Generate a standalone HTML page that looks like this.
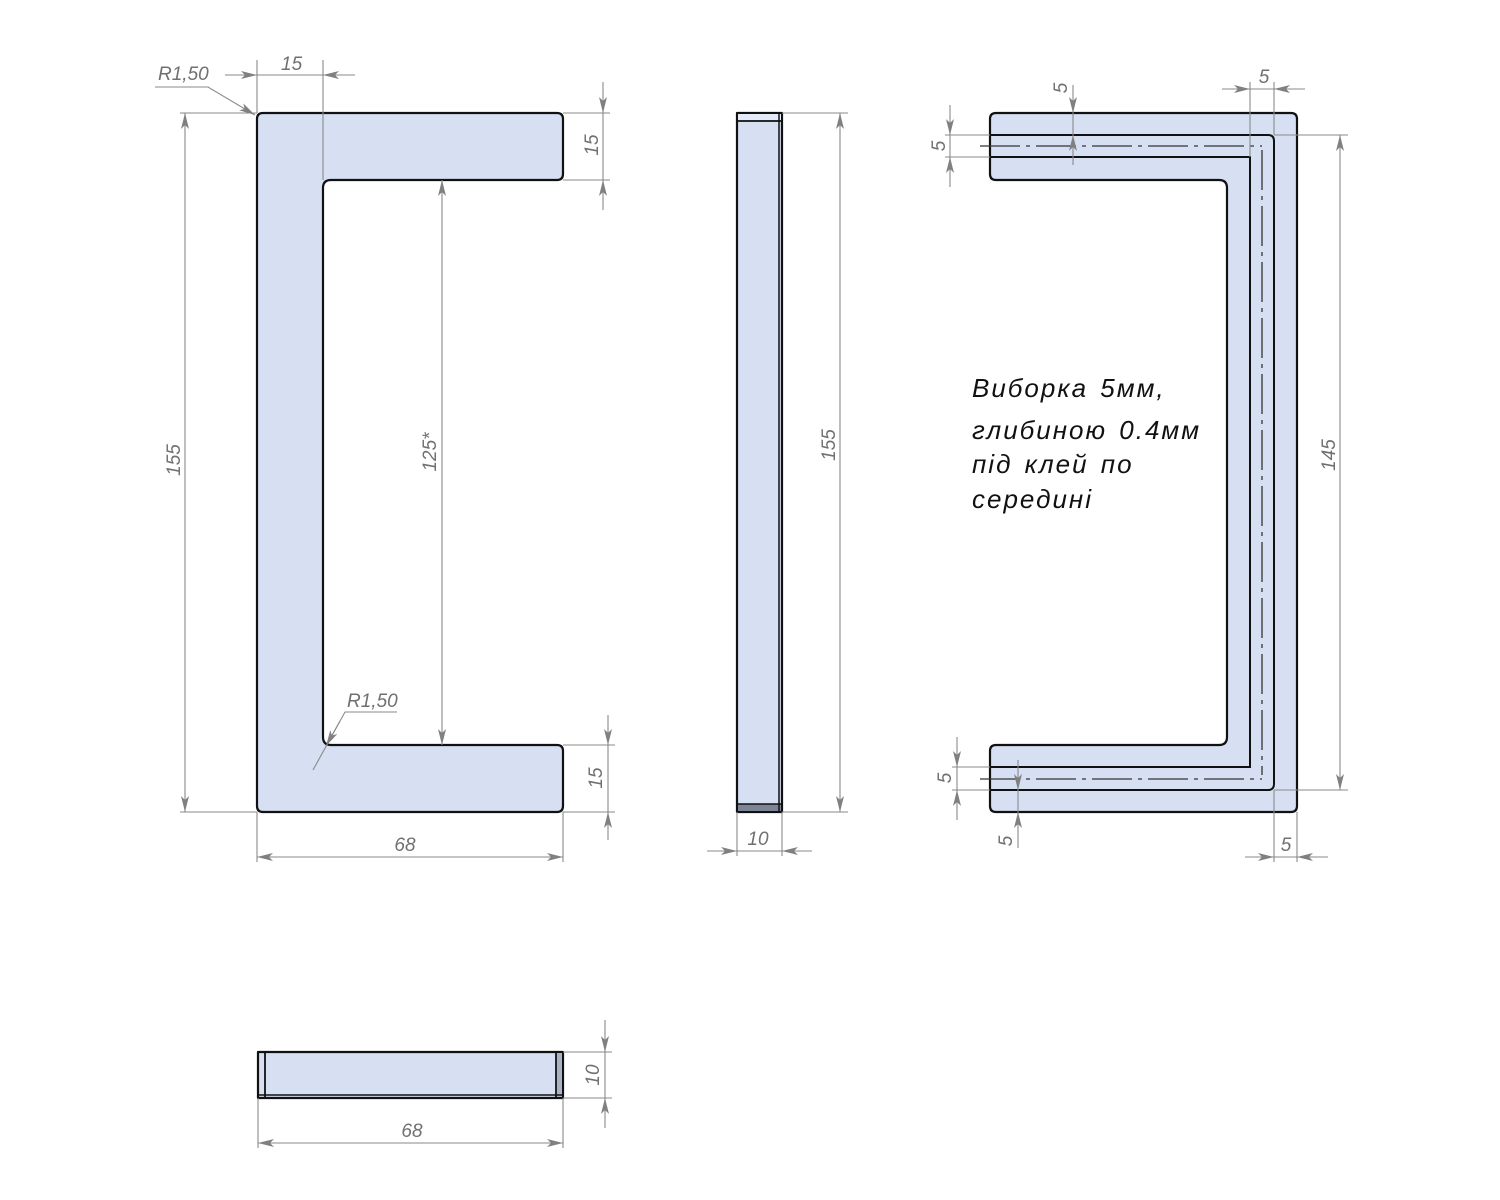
<!DOCTYPE html>
<html><head><meta charset="utf-8"><style>
html,body{margin:0;padding:0;background:#fff;}
svg{display:block;}
text{font-family:"Liberation Sans","DejaVu Sans",sans-serif;font-style:italic;fill:#707070;font-size:19px;font-weight:300;}
.note{fill:#111;font-size:26px;letter-spacing:2px;word-spacing:3px;}
</style></head><body>
<svg width="1500" height="1200" viewBox="0 0 1500 1200" xmlns="http://www.w3.org/2000/svg">
<defs>
<marker id="a" viewBox="0 0 16 8" refX="16" refY="4" markerWidth="16" markerHeight="8" markerUnits="userSpaceOnUse" orient="auto-start-reverse">
<path d="M0,0 L16,4 L0,8 L4,4 Z" fill="#808080"/></marker>
</defs>
<g fill="#d6e0f2" stroke="#111" stroke-width="2.2" stroke-linejoin="round">
<path d="M263,113 H557 Q563,113 563,119 V174 Q563,180 557,180 H331 Q323,180 323,188 V737 Q323,745 331,745 H557 Q563,745 563,751 V806 Q563,812 557,812 H263 Q257,812 257,806 V119 Q257,113 263,113 Z"/>
<rect x="737" y="113" width="45" height="699"/>
<path d="M996,113 H1291 Q1297,113 1297,119 V806 Q1297,812 1291,812 H996 Q990,812 990,806 V751 Q990,745 996,745 H1219 Q1227,745 1227,737 V188 Q1227,180 1219,180 H996 Q990,180 990,174 V119 Q990,113 996,113 Z"/>
<rect x="258" y="1052" width="305" height="46"/>
</g>
<rect x="738" y="114" width="43" height="6" fill="#e4ebf8"/>
<line x1="737" y1="121" x2="782" y2="121" stroke="#111" stroke-width="1.8"/>
<rect x="738" y="804" width="43" height="7" fill="#7c8496"/>
<line x1="737" y1="804" x2="782" y2="804" stroke="#111" stroke-width="1.5"/>
<line x1="779" y1="113" x2="779" y2="812" stroke="#111" stroke-width="1.5"/>
<line x1="265" y1="1052" x2="265" y2="1098" stroke="#111" stroke-width="1.8"/>
<line x1="556" y1="1052" x2="556" y2="1098" stroke="#111" stroke-width="1.8"/>
<rect x="557" y="1053" width="5" height="44" fill="#aab3c6"/>
<line x1="258" y1="1095" x2="563" y2="1095" stroke="#111" stroke-width="1.5"/>
<g fill="none" stroke="#111" stroke-width="2">
<path d="M990,135 H1268 Q1274,135 1274,141 V784 Q1274,790 1268,790 H990"/>
<path d="M990,157 H1250 V767 H990"/>
</g>
<g fill="none" stroke="#333" stroke-width="1.3" stroke-dasharray="40,6,4,6">
<path d="M980,146 H1262"/><path d="M1262,150 V775"/><path d="M980,779 H1262"/>
</g>
<g stroke="#8a8a8a" stroke-width="1.1" fill="none">
<line x1="180" y1="113" x2="257" y2="113"/><line x1="180" y1="812" x2="257" y2="812"/>
<line x1="185" y1="113" x2="185" y2="812" marker-start="url(#a)" marker-end="url(#a)"/>
<line x1="442" y1="180" x2="442" y2="745" marker-start="url(#a)" marker-end="url(#a)"/>
<line x1="257" y1="60" x2="257" y2="113"/><line x1="323" y1="60" x2="323" y2="180"/>
<line x1="225" y1="75" x2="257" y2="75" marker-end="url(#a)"/><line x1="355" y1="75" x2="323" y2="75" marker-end="url(#a)"/>
<line x1="257" y1="75" x2="323" y2="75"/>
<polyline points="155,87 208,87 255,115" marker-end="url(#a)"/>
<line x1="563" y1="113" x2="610" y2="113"/><line x1="563" y1="180" x2="610" y2="180"/>
<line x1="603" y1="82" x2="603" y2="113" marker-end="url(#a)"/><line x1="603" y1="210" x2="603" y2="180" marker-end="url(#a)"/>
<line x1="603" y1="113" x2="603" y2="180"/>
<line x1="563" y1="745" x2="615" y2="745"/><line x1="563" y1="812" x2="615" y2="812"/>
<line x1="608" y1="715" x2="608" y2="745" marker-end="url(#a)"/><line x1="608" y1="840" x2="608" y2="812" marker-end="url(#a)"/>
<line x1="608" y1="745" x2="608" y2="812"/>
<line x1="257" y1="812" x2="257" y2="862"/><line x1="563" y1="812" x2="563" y2="862"/>
<line x1="257" y1="857" x2="563" y2="857" marker-start="url(#a)" marker-end="url(#a)"/>
<polyline points="397,712 345,712 313,770"/>
<line x1="340" y1="721" x2="326" y2="746" marker-end="url(#a)"/>
<line x1="782" y1="113" x2="848" y2="113"/><line x1="782" y1="812" x2="848" y2="812"/>
<line x1="840" y1="113" x2="840" y2="812" marker-start="url(#a)" marker-end="url(#a)"/>
<line x1="737" y1="812" x2="737" y2="856"/><line x1="782" y1="812" x2="782" y2="856"/>
<line x1="707" y1="851" x2="737" y2="851" marker-end="url(#a)"/><line x1="812" y1="851" x2="782" y2="851" marker-end="url(#a)"/>
<line x1="737" y1="851" x2="782" y2="851"/>
<line x1="563" y1="1052" x2="612" y2="1052"/><line x1="563" y1="1098" x2="612" y2="1098"/>
<line x1="605" y1="1020" x2="605" y2="1052" marker-end="url(#a)"/><line x1="605" y1="1128" x2="605" y2="1098" marker-end="url(#a)"/>
<line x1="605" y1="1052" x2="605" y2="1098"/>
<line x1="258" y1="1098" x2="258" y2="1148"/><line x1="563" y1="1098" x2="563" y2="1148"/>
<line x1="258" y1="1143" x2="563" y2="1143" marker-start="url(#a)" marker-end="url(#a)"/>
<line x1="945" y1="135" x2="990" y2="135"/><line x1="945" y1="157" x2="990" y2="157"/>
<line x1="950" y1="105" x2="950" y2="135" marker-end="url(#a)"/><line x1="950" y1="187" x2="950" y2="157" marker-end="url(#a)"/>
<line x1="950" y1="135" x2="950" y2="157"/>
<line x1="1073" y1="85" x2="1073" y2="113" marker-end="url(#a)"/><line x1="1073" y1="165" x2="1073" y2="135" marker-end="url(#a)"/>
<line x1="1073" y1="113" x2="1073" y2="135"/>
<line x1="1250" y1="82" x2="1250" y2="157"/><line x1="1274" y1="82" x2="1274" y2="135"/>
<line x1="1222" y1="89" x2="1250" y2="89" marker-end="url(#a)"/><line x1="1305" y1="89" x2="1274" y2="89" marker-end="url(#a)"/>
<line x1="1250" y1="89" x2="1274" y2="89"/>
<line x1="1274" y1="135" x2="1348" y2="135"/><line x1="1274" y1="790" x2="1348" y2="790"/>
<line x1="1340" y1="135" x2="1340" y2="790" marker-start="url(#a)" marker-end="url(#a)"/>
<line x1="952" y1="767" x2="990" y2="767"/><line x1="952" y1="790" x2="990" y2="790"/>
<line x1="957" y1="737" x2="957" y2="767" marker-end="url(#a)"/><line x1="957" y1="820" x2="957" y2="790" marker-end="url(#a)"/>
<line x1="957" y1="767" x2="957" y2="790"/>
<line x1="1018" y1="760" x2="1018" y2="790" marker-end="url(#a)"/><line x1="1018" y1="848" x2="1018" y2="812" marker-end="url(#a)"/>
<line x1="1018" y1="790" x2="1018" y2="812"/>
<line x1="1274" y1="790" x2="1274" y2="862"/><line x1="1297" y1="812" x2="1297" y2="862"/>
<line x1="1245" y1="857" x2="1274" y2="857" marker-end="url(#a)"/><line x1="1328" y1="857" x2="1297" y2="857" marker-end="url(#a)"/>
<line x1="1274" y1="857" x2="1297" y2="857"/>
</g>
<text x="158" y="80">R1,50</text>
<text x="281" y="70">15</text>
<text transform="translate(180,460) rotate(-90)" text-anchor="middle">155</text>
<text transform="translate(436,452) rotate(-90)" text-anchor="middle">125*</text>
<text transform="translate(598,145) rotate(-90)" text-anchor="middle">15</text>
<text transform="translate(602,778) rotate(-90)" text-anchor="middle">15</text>
<text x="405" y="851" text-anchor="middle">68</text>
<text x="347" y="707">R1,50</text>
<text transform="translate(835,445) rotate(-90)" text-anchor="middle">155</text>
<text x="758" y="845" text-anchor="middle">10</text>
<text transform="translate(599,1075) rotate(-90)" text-anchor="middle">10</text>
<text x="412" y="1137" text-anchor="middle">68</text>
<text transform="translate(945,146) rotate(-90)" text-anchor="middle">5</text>
<text transform="translate(1067,88) rotate(-90)" text-anchor="middle">5</text>
<text x="1264" y="83" text-anchor="middle">5</text>
<text transform="translate(1335,455) rotate(-90)" text-anchor="middle">145</text>
<text transform="translate(951,778) rotate(-90)" text-anchor="middle">5</text>
<text transform="translate(1012,841) rotate(-90)" text-anchor="middle">5</text>
<text x="1286" y="851" text-anchor="middle">5</text>
<text class="note" x="972" y="397">Виборка  5мм,</text>
<text class="note" x="972" y="439">глибиною  0.4мм</text>
<text class="note" x="972" y="473">під  клей  по</text>
<text class="note" x="972" y="508">середині</text>
</svg>
</body></html>
